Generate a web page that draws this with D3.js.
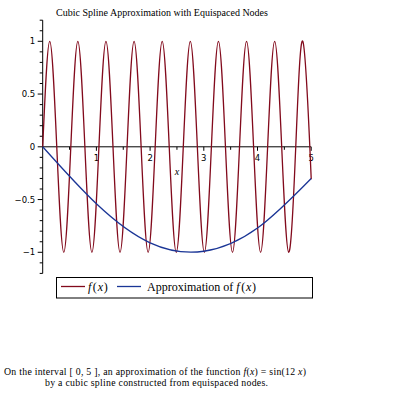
<!DOCTYPE html>
<html><head><meta charset="utf-8">
<script src="https://cdn.jsdelivr.net/npm/d3@7"></script>
<style>body{margin:0;background:#fff}svg{display:block}</style>
</head><body>
<script>
// f(x) = sin(12x): values read at quarter-period points (zeros and extrema)
const fX = [0,0.1309,0.2618,0.3927,0.5236,0.6545,0.7854,0.9163,1.0472,1.1781,1.3090,1.4399,1.5708,1.7017,1.8326,1.9635,2.0944,2.2253,2.3562,2.4871,2.6180,2.7489,2.8798,3.0107,3.1416,3.2725,3.4034,3.5343,3.6652,3.7961,3.9270,4.0579,4.1888,4.3197,4.4506,4.5815,4.7124,4.8433,4.9742,5];
const fY = [0,1,0,-1,0,1,0,-1,0,1,0,-1,0,1,0,-1,0,1,0,-1,0,1,0,-1,0,1,0,-1,0,1,0,-1,0,1,0,-1,0,1,0,-0.30];
// spline nodes (equispaced)
const nodeX = [0,1,2,3,4,5];
const nodeY = [0,-0.54,-0.91,-0.99,-0.77,-0.30];
const xTickLabels = [1,2,3,4,5];
const yTickLabels = [-1,-0.5,0,0.5,1];
const titleText = "Cubic Spline Approximation with Equispaced Nodes";

const W = 395, H = 395;
const svg = d3.select("body").append("svg").attr("width",W).attr("height",H);
const x = d3.scaleLinear().domain([0,5]).range([42.7,311.2]);
const y = d3.scaleLinear().domain([-1.2,1.2]).range([273.4,20.2]);
const red = "#820a1c", blue = "#1a3596";
const serif = "'Liberation Serif', 'Times New Roman', serif";

// title
svg.append("text").attr("x",162).attr("y",15.5).attr("text-anchor","middle")
  .attr("font-family",serif).attr("font-size",10).text(titleText);

// x axis at y=0
const xa = svg.append("g").attr("transform",`translate(0,${y(0)})`);
xa.append("line").attr("x1",x(0)).attr("x2",x(5)).attr("stroke","#000");
d3.range(0.5,5.01,0.5).forEach(v=>{
  xa.append("line").attr("x1",x(v)).attr("x2",x(v)).attr("y1",0)
    .attr("y2",Number.isInteger(v)?4:3).attr("stroke","#000");
});
xTickLabels.forEach(v=>{
  xa.append("text").attr("x",x(v)).attr("y",14).attr("text-anchor","middle")
    .attr("font-family","'DejaVu Sans', sans-serif").attr("font-size",8.5).text(v);
});
svg.append("text").attr("x",x(2.5)).attr("y",y(0)+28).attr("text-anchor","middle")
  .attr("font-family",serif).attr("font-style","italic").attr("font-size",10).text("x");

// y axis at x=0
const ya = svg.append("g").attr("transform",`translate(${x(0)},0)`);
ya.append("line").attr("y1",y(-1.2)).attr("y2",y(1.2)).attr("stroke","#000");
d3.range(-12,13).forEach(k=>{
  const v = k/10;
  const major = (k%5===0);
  ya.append("line").attr("x1",major?-5:-3).attr("x2",0).attr("y1",y(v)).attr("y2",y(v)).attr("stroke","#000");
});
yTickLabels.forEach(v=>{
  ya.append("text").attr("x",-7.5).attr("y",y(v)+3).attr("text-anchor","end")
    .attr("font-family","'DejaVu Sans', sans-serif").attr("font-size",8.5)
    .text(v<0 ? "\u2212"+Math.abs(v) : String(v));
});

// curves
const line = d3.line().x(d=>x(d[0])).y(d=>y(d[1])).curve(d3.curveNatural);
svg.append("path").datum(fX.map((v,i)=>[v,fY[i]])).attr("d",line)
  .attr("fill","none").attr("stroke",red).attr("stroke-width",1.3);
svg.append("path").datum(nodeX.map((v,i)=>[v,nodeY[i]])).attr("d",line)
  .attr("fill","none").attr("stroke",blue).attr("stroke-width",1.3);

// legend
const lg = svg.append("g");
lg.append("rect").attr("x",56.5).attr("y",277.5).attr("width",256).attr("height",20.5)
  .attr("fill","none").attr("stroke","#000");
lg.append("line").attr("x1",61).attr("x2",85).attr("y1",286.5).attr("y2",286.5).attr("stroke",red).attr("stroke-width",1.3);
function fx(t){
  t.append("tspan").attr("font-style","italic").text("f");
  t.append("tspan").attr("dx",1.5).text("(");
  t.append("tspan").attr("dx",0.8).attr("font-style","italic").text("x");
  t.append("tspan").attr("dx",0.8).text(")");
}
const t1 = lg.append("text").attr("x",88).attr("y",291).attr("font-family",serif).attr("font-size",12);
fx(t1);
lg.append("line").attr("x1",117).attr("x2",141).attr("y1",286.5).attr("y2",286.5).attr("stroke",blue).attr("stroke-width",1.3);
const t2 = lg.append("text").attr("x",147).attr("y",291).attr("font-family",serif).attr("font-size",12);
t2.append("tspan").text("Approximation of ");
fx(t2);

// caption
const c1 = svg.append("text").attr("x",4).attr("y",375)
  .attr("font-family",serif).attr("font-size",9.8)
  .attr("textLength",302).attr("lengthAdjust","spacing");
[["On the interval [ 0, 5 ], an approximation of the function ",false],["f",true],["(",false],["x",true],[") = sin(12 ",false],["x",true],[")",false]]
  .forEach(([s,it])=>c1.append("tspan").attr("font-style",it?"italic":"normal").text(s));
svg.append("text").attr("x",45).attr("y",386)
  .attr("font-family",serif).attr("font-size",9.8)
  .attr("textLength",223).attr("lengthAdjust","spacing")
  .text("by a cubic spline constructed from equispaced nodes.");
</script>
</body></html>
